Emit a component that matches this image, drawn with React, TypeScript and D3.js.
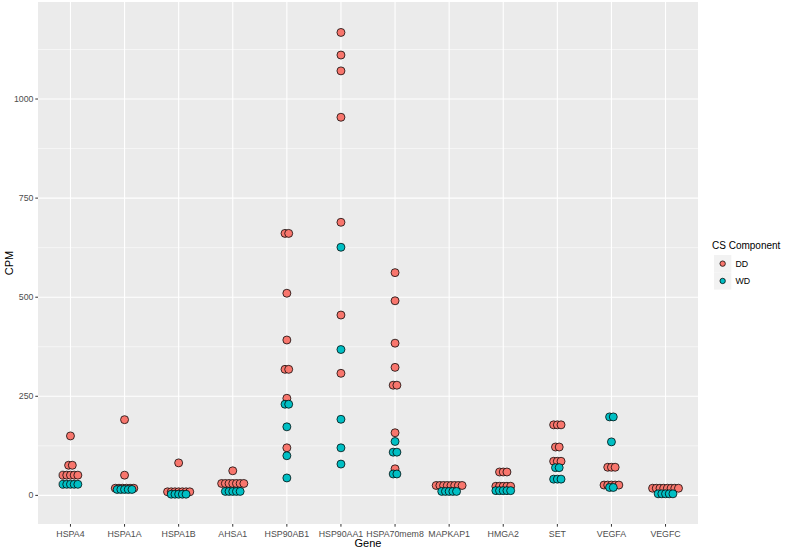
import React from "react";
import * as d3 from "d3";

const genes = ["HSPA4", "HSPA1A", "HSPA1B", "AHSA1", "HSP90AB1", "HSP90AA1", "HSPA70mem8", "MAPKAP1", "HMGA2", "SET", "VEGFA", "VEGFC"];

const ddValues: number[][] = [
  [150, 76, 76, 51, 51, 51, 51, 51],
  [191, 51, 18, 18, 18, 18, 18, 18],
  [82, 9, 9, 9, 9, 9, 9, 9],
  [62, 30, 30, 30, 30, 30, 30, 30],
  [661, 661, 510, 392, 318, 318, 245, 120],
  [1168, 1111, 1071, 954, 689, 455, 308],
  [562, 491, 384, 323, 278, 278, 158, 67],
  [25, 25, 25, 25, 25, 25, 25, 25],
  [59, 59, 59, 23, 23, 23, 23, 23],
  [178, 178, 178, 122, 122, 86, 86, 86],
  [71, 71, 71, 26, 26, 26, 26, 26],
  [18, 18, 18, 18, 18, 18, 18, 18],
];

const wdValues: number[][] = [
  [28, 28, 28, 28, 28],
  [15, 15, 15, 15, 15],
  [3, 3, 3, 3, 3],
  [10, 10, 10, 10, 10],
  [230, 230, 173, 100, 44],
  [626, 368, 192, 120, 79],
  [136, 109, 109, 54, 54],
  [10, 10, 10, 10, 10],
  [12, 12, 12, 12, 12],
  [70, 70, 41, 41, 41],
  [198, 198, 135, 20, 20],
  [4, 4, 4, 4, 4],
];

const groups = ["DD", "WD"];
const colors = ["#F8766D", "#00BFC4"];
const yTicks = [0, 250, 500, 750, 1000];
const yMinor = [125, 375, 625, 875, 1125];

const W = 787;
const H = 551;
const panel = { left: 38, right: 698, top: 2, bottom: 524 };
const R = 4;
const STEP = 3.7;

type Dot = { x: number; y: number; fill: string; key: string };

export default function App() {
  const x = d3.scalePoint<string>().domain(genes).range([panel.left, panel.right]).padding(0.6);
  const y = d3.scaleLinear().domain([-72.2, 1244.8]).range([panel.bottom, panel.top]);

  const dots: Dot[] = [];
  [ddValues, wdValues].forEach((series, gi) => {
    series.forEach((vals, i) => {
      const cx = x(genes[i]) as number;
      const counts = d3.rollups(vals, (v) => v.length, (v) => v);
      counts.forEach(([val, n]) => {
        for (let k = 0; k < n; k++) {
          dots.push({
            x: cx + (k - (n - 1) / 2) * STEP,
            y: y(val),
            fill: colors[gi],
            key: `${gi}-${i}-${val}-${k}`,
          });
        }
      });
    });
  });

  const font = "'Liberation Sans', Arial, sans-serif";
  const pw = panel.right - panel.left;
  const ph = panel.bottom - panel.top;

  return (
    <svg width={W} height={H} style={{ position: "absolute", left: 0, top: 0, background: "#fff" }} fontFamily={font}>
      <rect x={panel.left} y={panel.top} width={pw} height={ph} fill="#EBEBEB" />
      {yMinor.map((t) => (
        <line key={"mn" + t} x1={panel.left} x2={panel.right} y1={y(t)} y2={y(t)} stroke="#fff" strokeWidth={0.55} />
      ))}
      {yTicks.map((t) => (
        <line key={"mj" + t} x1={panel.left} x2={panel.right} y1={y(t)} y2={y(t)} stroke="#fff" strokeWidth={1.1} />
      ))}
      {genes.map((g) => (
        <line key={"vg" + g} x1={x(g)} x2={x(g)} y1={panel.top} y2={panel.bottom} stroke="#fff" strokeWidth={1.1} />
      ))}
      {dots.map((d) => (
        <circle key={d.key} cx={d.x} cy={d.y} r={R} fill={d.fill} stroke="#000" strokeWidth={0.75} />
      ))}
      {/* y axis */}
      {yTicks.map((t) => (
        <g key={"yt" + t}>
          <line x1={panel.left - 2.7} x2={panel.left} y1={y(t)} y2={y(t)} stroke="#333" strokeWidth={1} />
          <text x={panel.left - 4.5} y={y(t)} dy="0.35em" textAnchor="end" fontSize={8.8} fill="#4D4D4D">
            {t}
          </text>
        </g>
      ))}
      {/* x axis */}
      {genes.map((g) => (
        <g key={"xt" + g}>
          <line x1={x(g)} x2={x(g)} y1={panel.bottom} y2={panel.bottom + 2.7} stroke="#333" strokeWidth={1} />
          <text x={x(g)} y={panel.bottom + 12.5} textAnchor="middle" fontSize={8.8} fill="#4D4D4D">
            {g}
          </text>
        </g>
      ))}
      <text x={(panel.left + panel.right) / 2} y={547} textAnchor="middle" fontSize={11} fill="#000">
        Gene
      </text>
      <text transform={`translate(13, ${(panel.top + panel.bottom) / 2}) rotate(-90)`} textAnchor="middle" fontSize={11} fill="#000">
        CPM
      </text>
      {/* legend */}
      <text x={712} y={249} fontSize={10} fill="#000">
        CS Component
      </text>
      {groups.map((g, i) => (
        <g key={"lg" + g} transform={`translate(714, ${255 + i * 17.3})`}>
          <rect width={17.3} height={17.3} fill="#F2F2F2" />
          <circle cx={8.65} cy={8.65} r={2.7} fill={colors[i]} stroke="#000" strokeWidth={0.75} />
          <text x={18 + 3.5} y={8.65} dy="0.35em" fontSize={8.8} fill="#000">
            {g}
          </text>
        </g>
      ))}
    </svg>
  );
}
